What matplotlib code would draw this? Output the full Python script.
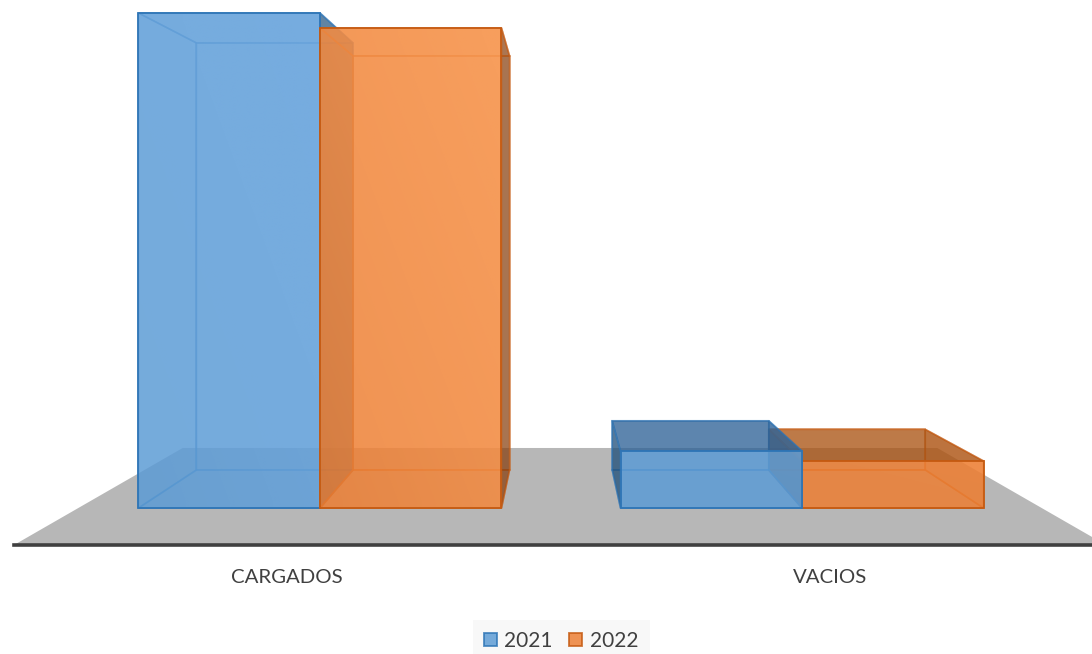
import numpy as np
import matplotlib
matplotlib.use('Agg')
import matplotlib.pyplot as plt
from matplotlib.colors import to_rgb
from matplotlib.patches import Patch, Polygon

plt.rcParams['font.family'] = ['Lato', 'DejaVu Sans']

categories = ['CARGADOS', 'VACIOS']
years = ['2021', '2022']
values_2021 = [99.0, 11.4]
values_2022 = [96.0, 9.4]

FILL = {'2021': '#5B9BD5', '2022': '#ED7D31'}
EDGE = {'2021': '#2E75B6', '2022': '#C55A11'}
DARK = {'2021': '#1F4E79', '2022': '#843C0C'}
TOP = {'2021': '#2A5F94', '2022': '#A8500F'}
SHINE = {'2021': '#78AEE4', '2022': '#FFAA68'}

W, H = 1092, 654
BASE_PX = 545
PX_X = 482.0   # pixels per category step
PX_Y = 5.0     # pixels per value unit
BAR_W = 181.5 / PX_X
CX, CY = (560 - 320) / PX_X, (508 - 231) / PX_Y   # vanishing point
BACK = 0.8626


def depth(x, y, s=BACK):
    return CX + (x - CX) * s, CY + (y - CY) * s


def draw_face(ax, pts, color, alpha, edge, z):
    ax.add_patch(Polygon(pts, closed=True, facecolor=color, alpha=alpha,
                         edgecolor='none', zorder=z))
    ax.add_patch(Polygon(pts, closed=True, fill=False, edgecolor=edge,
                         linewidth=1.2, alpha=0.55, zorder=z))


def draw_shine(ax, x0, x1, value, year, z):
    # the glass look: a tint that grows towards the upper right of the bar
    u, v = np.meshgrid(np.linspace(0, 1, 40), np.linspace(0, 1, 40))
    rgba = np.zeros((40, 40, 4))
    rgba[..., :3] = to_rgb(SHINE[year])
    rgba[..., 3] = 0.55 * (0.5 * u + 0.5 * v) * value / 100
    im = ax.imshow(rgba, extent=(x0, x1, 0, value), origin='lower',
                   aspect='auto', zorder=z, interpolation='bilinear')
    clip = Polygon([(x0, 0), (x1, 0), (x1, value), (x0, value)],
                   closed=True, transform=ax.transData)
    im.set_clip_path(clip)


def draw_bar(ax, x0, value, year, z):
    x1 = x0 + BAR_W
    fa, fb = (x0, 0), (x1, 0)
    fc, fd = (x1, value), (x0, value)
    ba, bb, bc, bd = depth(*fa), depth(*fb), depth(*fc), depth(*fd)
    col, edge, dark = FILL[year], EDGE[year], DARK[year]

    # inner faces first, the ones seen from outside get the dark tint
    draw_face(ax, [ba, bb, bc, bd], col, 0.05, edge, z)
    draw_face(ax, [fa, fb, bb, ba], col, 0.05, edge, z + 0.1)
    top_outer = value < CY
    left_outer = x0 > CX
    right_outer = x1 < CX
    draw_face(ax, [fa, ba, bd, fd], dark if left_outer else col,
              0.75 if left_outer else 0.05, edge, z + 0.2)
    draw_face(ax, [fb, bb, bc, fc], dark if right_outer else col,
              0.7 if right_outer else 0.25, edge, z + 0.2)
    draw_face(ax, [fd, fc, bc, bd], TOP[year] if top_outer else col,
              0.75 if top_outer else 0.05, edge, z + 0.3)
    ax.add_patch(Polygon([fa, fb, fc, fd], closed=True, facecolor=col,
                         alpha=0.83, edgecolor='none', zorder=z + 0.4))
    draw_shine(ax, x0, x1, value, year, z + 0.45)
    ax.add_patch(Polygon([fa, fb, fc, fd], closed=True, fill=False,
                         edgecolor=edge, linewidth=1.3, zorder=z + 0.5))


def main():
    fig = plt.figure(figsize=(W / 100, H / 100), dpi=100, facecolor='white')
    ax = fig.add_axes([0, (H - BASE_PX) / H, 1, BASE_PX / H])
    xlim = (-320 / PX_X, (W - 320) / PX_X)
    ylim = (-(BASE_PX - 508) / PX_Y, 508 / PX_Y)
    ax.patch.set_alpha(0)

    # floor
    fy = ylim[0]
    fl = (14 - 320) / PX_X
    fr = (1106 - 320) / PX_X
    floor_s = 0.691
    floor = [(fl, fy), (fr, fy), depth(fr, fy, floor_s), depth(fl, fy, floor_s)]
    ax.add_patch(Polygon(floor, closed=True, facecolor='#B7B7B7',
                         edgecolor='none', zorder=1))

    # bars touch at the category position, outer one painted first on the right
    draw_bar(ax, 0 - BAR_W, values_2021[0], '2021', 2)
    draw_bar(ax, 0, values_2022[0], '2022', 3)
    draw_bar(ax, 1, values_2022[1], '2022', 2)
    draw_bar(ax, 1 - BAR_W, values_2021[1], '2021', 3)

    ax.set_xlim(*xlim)
    ax.set_ylim(*ylim)

    for name, spine in ax.spines.items():
        spine.set_visible(name == 'bottom')
    ax.spines['bottom'].set_bounds(fl, xlim[1])
    ax.spines['bottom'].set_color('#404040')
    ax.spines['bottom'].set_linewidth(2.6)
    ax.spines['bottom'].set_zorder(5)

    ax.set_yticks([])
    ax.set_xticks([(287 - 320) / PX_X, (830 - 320) / PX_X])
    ax.set_xticklabels(categories, fontsize=14.7, color='#404040')
    ax.tick_params(axis='x', length=0, pad=17)

    handles = [Patch(facecolor=FILL[y], alpha=0.83, edgecolor=EDGE[y],
                     linewidth=1.3, label=y) for y in years]
    for h, y in zip(handles, years):
        h.set_edgecolor(EDGE[y])
    fig.legend(handles=handles, loc='center', ncol=2,
               bbox_to_anchor=(561 / W, 1 - 641 / H), frameon=True,
               facecolor='#F8F8F8', edgecolor='none', framealpha=1,
               fontsize=15, labelcolor='#404040', handlelength=0.62,
               handleheight=0.62, handletextpad=0.35, columnspacing=0.8,
               fancybox=False, borderpad=0.55)

    fig.savefig('out.png', dpi=100)


if __name__ == '__main__':
    main()
